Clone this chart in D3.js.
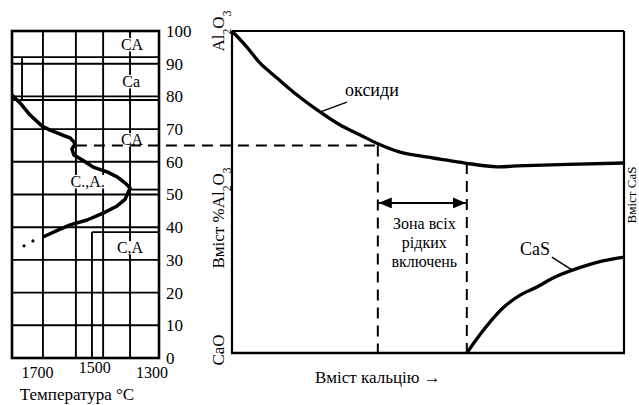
<!DOCTYPE html>
<html><head><meta charset="utf-8">
<script src="https://cdn.jsdelivr.net/npm/d3@7"></script>
<style>
body{margin:0;background:#fff;}
svg{display:block;font-family:"Liberation Serif","Times New Roman",serif;}
</style></head><body>
<svg id="c" width="639" height="405"></svg>
<script>
// ---------- data ----------
// left panel: temperature vs %Al2O3
const pctTicks = [0,10,20,30,40,50,60,70,80,90,100];
const tempTicks = [1700,1500,1300];
const gridPctFull = [10,20,30,40,50,60,70,78.9,80,90,92];
const gridTempFull = [1681,1566,1471,1377];
const liquidusT = [1789,1761,1726,1684,1656,1614,1586,1573,1569,1580,1573,1545,1506,1457,1422,1394,1377,1394,1422,1471,1527,1586,1621,1681];
const liquidusP = [80.4,78.0,74.3,70.9,69.7,68.2,67.3,66.1,65.4,63.9,62.1,60.6,58.4,56.9,55.4,53.5,52.0,48.6,46.5,44.3,42.2,40.7,39.4,37.0];
const dotsT = [1747,1716];
const dotsP = [34.3,35.8];
const phaseLabels = ["CA","Ca","CA","C.,A.","C,A"];
const phaseT = [1370,1373,1370,1525,1377];
const phaseP = [94.2,82.9,65.1,52.3,32.1];
const dashLevel = 65;

// right panel: calcium content vs composition
const oxideX = [0,3.8,7.1,11.5,16.6,21.7,27.6,32.7,37.2,42.9,48,53.1,59.4,67.6,72.7,100];
const oxideY = [100,95,90.1,85.4,80.1,75.5,70.8,67.7,65,62.4,61.2,60.2,59,57.8,58.1,59];
const casX = [59.9,62.8,65.8,69.1,73.5,77.8,81.9,87,94.6,100];
const casY = [0,5,9.6,14,18,20.5,23.3,25.8,28.6,29.8];
const zoneX = [37.2,59.9];
const zoneArrowY = 46.6;
const zoneText = ["Зона всіх","рідких","включень"];

// ---------- scales ----------
const svg = d3.select("#c");
const xT = d3.scaleLinear().domain([1789,1276]).range([12,159]);
const yL = d3.scaleLinear().domain([0,100]).range([358,31]);
const xR = d3.scaleLinear().domain([0,100]).range([232,624]);
const yR = d3.scaleLinear().domain([0,100]).range([353,31]);

const ink = "#000";
const gw = 1.9;

// ---------- left panel grid ----------
const gL = svg.append("g");
gL.selectAll("line.h").data(gridPctFull).join("line")
  .attr("x1", xT.range()[0]).attr("x2", xT.range()[1])
  .attr("y1", d=>yL(d)).attr("y2", d=>yL(d))
  .attr("stroke", ink).attr("stroke-width", gw);
gL.selectAll("line.v").data(gridTempFull).join("line")
  .attr("x1", d=>xT(d)).attr("x2", d=>xT(d))
  .attr("y1", yL(100)).attr("y2", yL(0))
  .attr("stroke", ink).attr("stroke-width", gw);
// partial lines
const partial = [
  [1754,92,1754,78.9],
  [1510,38.5,1510,0],
  [1510,38.5,1276,38.5],
  [1377,51.5,1276,51.5]
];
gL.selectAll("line.p").data(partial).join("line")
  .attr("x1", d=>xT(d[0])).attr("y1", d=>yL(d[1]))
  .attr("x2", d=>xT(d[2])).attr("y2", d=>yL(d[3]))
  .attr("stroke", ink).attr("stroke-width", gw);
// border
gL.append("rect").attr("x", xT.range()[0]).attr("y", yL(100))
  .attr("width", xT.range()[1]-xT.range()[0]).attr("height", yL(0)-yL(100))
  .attr("fill","none").attr("stroke", ink).attr("stroke-width", 2.6);

// phase labels with white background
phaseLabels.forEach((t,i)=>{
  const g = gL.append("g");
  const txt = g.append("text").attr("x", xT(phaseT[i])).attr("y", yL(phaseP[i]))
    .attr("text-anchor","middle").attr("font-size",16).attr("fill",ink).text(t);
  const bb = txt.node().getBBox();
  g.insert("rect","text").attr("x", bb.x-1).attr("y", yL(phaseP[i])-12)
    .attr("width", bb.width+2).attr("height", 13.5).attr("fill","#fff");
});

// liquidus curve
const lineL = d3.line().x((d,i)=>xT(liquidusT[i])).y((d,i)=>yL(liquidusP[i]));
gL.append("path").attr("d", lineL(liquidusT)).attr("fill","none")
  .attr("stroke", ink).attr("stroke-width", 3.5).attr("stroke-linejoin","round");
gL.selectAll("circle").data(dotsT).join("circle")
  .attr("cx",(d,i)=>xT(d)).attr("cy",(d,i)=>yL(dotsP[i])).attr("r",1.6).attr("fill",ink);

// left axis labels
svg.append("g").selectAll("text").data(pctTicks).join("text")
  .attr("x", xT.range()[1]+7).attr("y", d=>yL(d)).attr("dy","0.35em")
  .attr("font-size",17).attr("fill",ink).text(d=>d);
svg.append("g").selectAll("text").data(tempTicks).join("text")
  .attr("x", d=>xT(d)).attr("y", d=> d===1500 ? 373 : 378)
  .attr("text-anchor","middle").attr("font-size",16).attr("fill",ink).text(d=>d);
svg.append("text").attr("x",77).attr("y",400).attr("text-anchor","middle")
  .attr("font-size",17).attr("fill",ink).text("Температура °C");

// ---------- right panel ----------
const gR = svg.append("g");
gR.append("line").attr("x1",xR(0)).attr("x2",xR(100)).attr("y1",yR(100)).attr("y2",yR(100))
  .attr("stroke",ink).attr("stroke-width",1.8);
gR.append("line").attr("x1",xR(0)).attr("x2",xR(0)).attr("y1",yR(100)).attr("y2",yR(0))
  .attr("stroke",ink).attr("stroke-width",2.2);
gR.append("line").attr("x1",xR(100)).attr("x2",xR(100)).attr("y1",yR(100)).attr("y2",yR(0))
  .attr("stroke",ink).attr("stroke-width",2.2);
gR.append("line").attr("x1",xR(0)-1).attr("x2",xR(100)+1).attr("y1",yR(0)).attr("y2",yR(0))
  .attr("stroke",ink).attr("stroke-width",2.6);

// dashed lines
const dash = "11,7";
svg.append("line").attr("x1", xT(1566)).attr("x2", xR(zoneX[0]))
  .attr("y1", yL(dashLevel)).attr("y2", yL(dashLevel))
  .attr("stroke",ink).attr("stroke-width",2).attr("stroke-dasharray",dash);
gR.append("line").attr("x1", xR(zoneX[0])).attr("x2", xR(zoneX[0]))
  .attr("y1", yL(dashLevel)).attr("y2", yR(0))
  .attr("stroke",ink).attr("stroke-width",2).attr("stroke-dasharray",dash);
gR.append("line").attr("x1", xR(zoneX[1])).attr("x2", xR(zoneX[1]))
  .attr("y1", yR(59)).attr("y2", yR(0))
  .attr("stroke",ink).attr("stroke-width",2).attr("stroke-dasharray",dash);

// curves
const lineO = d3.line().x((d,i)=>xR(oxideX[i])).y((d,i)=>yR(oxideY[i])).curve(d3.curveCatmullRom);
gR.append("path").attr("d", lineO(oxideX)).attr("fill","none")
  .attr("stroke",ink).attr("stroke-width",3.3);
const lineC = d3.line().x((d,i)=>xR(casX[i])).y((d,i)=>yR(casY[i])).curve(d3.curveCatmullRom);
gR.append("path").attr("d", lineC(casX)).attr("fill","none")
  .attr("stroke",ink).attr("stroke-width",3.3);

// arrow
const defs = svg.append("defs");
defs.append("marker").attr("id","ah").attr("viewBox","0 0 13 11").attr("refX",13).attr("refY",5.5)
  .attr("markerWidth",13).attr("markerHeight",11).attr("markerUnits","userSpaceOnUse")
  .attr("orient","auto-start-reverse")
  .append("path").attr("d","M0,0L13,5.5L0,11Z").attr("fill",ink);
gR.append("line").attr("x1", xR(zoneX[0])+1).attr("x2", xR(zoneX[1])-1)
  .attr("y1", yR(zoneArrowY)).attr("y2", yR(zoneArrowY))
  .attr("stroke",ink).attr("stroke-width",2)
  .attr("marker-start","url(#ah)").attr("marker-end","url(#ah)");
gR.selectAll("text.z").data(zoneText).join("text")
  .attr("x", xR((zoneX[0]+zoneX[1])/2)+2).attr("y",(d,i)=>yR(38.5)+i*19)
  .attr("text-anchor","middle").attr("font-size",16).attr("fill",ink).text(d=>d);

// curve annotations
gR.append("text").attr("x", xR(35.7)).attr("y", yR(79.8)).attr("text-anchor","middle")
  .attr("font-size",18).attr("fill",ink).text("оксиди");
gR.append("line").attr("x1", xR(29.3)).attr("y1", yR(77.9)).attr("x2", xR(22.4)).attr("y2", yR(74.8))
  .attr("stroke",ink).attr("stroke-width",1.5);
gR.append("text").attr("x", xR(77.3)).attr("y", yR(30.4)).attr("text-anchor","middle")
  .attr("font-size",18).attr("fill",ink).text("CaS");
gR.append("line").attr("x1", xR(81.6)).attr("y1", yR(29.8)).attr("x2", xR(86.7)).attr("y2", yR(25.8))
  .attr("stroke",ink).attr("stroke-width",1.5);

// rotated axis labels
function vtext(x, y, parts, size){
  const t = svg.append("text").attr("transform",`translate(${x},${y}) rotate(-90)`)
    .attr("text-anchor","middle").attr("font-size",size).attr("fill",ink);
  parts.forEach(p=>{
    const s = t.append("tspan").text(p[0]);
    if(p[1]) s.attr("font-size", size*0.68).attr("baseline-shift","sub");
  });
}
vtext(224, yR(100), [["Al"],["2",1],["O"],["3",1]], 17);
vtext(224, 218, [["Вміст %Al"],["2",1],["O"],["3",1]], 17);
vtext(224, yR(0)-3, [["CaO"]], 17);
vtext(635.5, 195, [["Вміст CaS"]], 13);

svg.append("text").attr("x",315).attr("y",383).attr("font-size",17).attr("fill",ink)
  .text("Вміст кальцію →");
</script></body></html>
